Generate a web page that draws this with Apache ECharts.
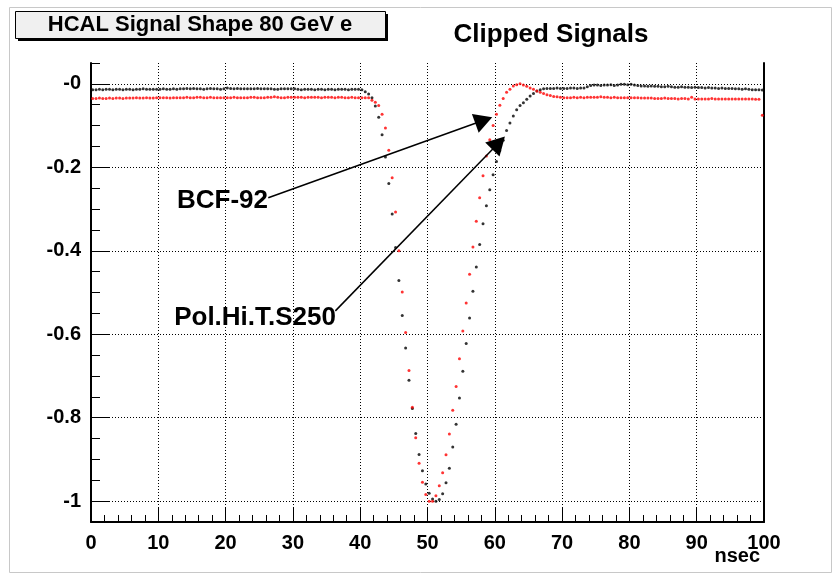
<!DOCTYPE html>
<html>
<head>
<meta charset="utf-8">
<script src="https://cdn.jsdelivr.net/npm/echarts@6/dist/echarts.min.js"></script>
<style>
  html, body { margin: 0; padding: 0; background: #ffffff; }
  #chart { width: 835px; height: 577px; }
</style>
</head>
<body>
<div id="chart"></div>
<script>
// Histogram binning of the time axis (ns): 200 bins of 0.5 ns from 0 to 100
const BIN_START = 0;
const BIN_WIDTH = 0.5;

// Normalised clipped signal, Pol.Hi.T.S250 scintillator (black)
const polHiTS250 = [
  -0.014,-0.014,-0.013,-0.014,-0.013,-0.013,-0.014,-0.013,-0.013,-0.014,
  -0.013,-0.013,-0.014,-0.013,-0.013,-0.012,-0.013,-0.013,-0.013,-0.013,
  -0.013,-0.012,-0.013,-0.013,-0.012,-0.013,-0.012,-0.012,-0.011,-0.012,
  -0.011,-0.012,-0.012,-0.013,-0.012,-0.011,-0.012,-0.012,-0.013,-0.012,
  -0.010,-0.011,-0.012,-0.011,-0.012,-0.012,-0.012,-0.012,-0.012,-0.011,
  -0.012,-0.012,-0.012,-0.012,-0.013,-0.013,-0.012,-0.012,-0.012,-0.012,
  -0.012,-0.013,-0.014,-0.013,-0.013,-0.013,-0.014,-0.013,-0.013,-0.014,
  -0.013,-0.013,-0.014,-0.013,-0.013,-0.013,-0.014,-0.013,-0.013,-0.013,
  -0.014,-0.019,-0.024,-0.033,-0.053,-0.080,-0.122,-0.175,-0.239,-0.312,
  -0.392,-0.471,-0.555,-0.633,-0.710,-0.778,-0.838,-0.888,-0.927,-0.959,
  -0.981,-0.995,-1.000,-0.996,-0.982,-0.956,-0.921,-0.870,-0.816,-0.753,
  -0.689,-0.622,-0.561,-0.497,-0.439,-0.385,-0.335,-0.292,-0.254,-0.218,
  -0.186,-0.160,-0.135,-0.112,-0.094,-0.077,-0.062,-0.052,-0.045,-0.037,
  -0.029,-0.023,-0.017,-0.014,-0.012,-0.011,-0.011,-0.011,-0.010,-0.011,
  -0.011,-0.011,-0.010,-0.010,-0.011,-0.010,-0.010,-0.007,-0.004,-0.003,
  -0.003,-0.004,-0.003,-0.003,-0.002,-0.004,-0.003,-0.001,-0.001,-0.002,
  -0.001,-0.003,-0.004,-0.005,-0.005,-0.006,-0.005,-0.006,-0.006,-0.007,
  -0.007,-0.006,-0.007,-0.008,-0.008,-0.007,-0.008,-0.008,-0.009,-0.008,
  -0.009,-0.009,-0.010,-0.009,-0.010,-0.010,-0.011,-0.010,-0.011,-0.011,
  -0.011,-0.012,-0.012,-0.013,-0.012,-0.013,-0.014,-0.014,-0.014,-0.015
];

// Normalised clipped signal, BCF-92 fibre (red)
const bcf92 = [
  -0.035,-0.035,-0.034,-0.035,-0.035,-0.034,-0.035,-0.034,-0.034,-0.035,
  -0.034,-0.034,-0.034,-0.033,-0.034,-0.034,-0.033,-0.034,-0.034,-0.033,
  -0.033,-0.033,-0.033,-0.034,-0.033,-0.033,-0.033,-0.033,-0.032,-0.033,
  -0.033,-0.032,-0.032,-0.033,-0.033,-0.032,-0.033,-0.033,-0.033,-0.033,
  -0.033,-0.033,-0.032,-0.033,-0.033,-0.033,-0.033,-0.032,-0.032,-0.033,
  -0.033,-0.033,-0.032,-0.032,-0.031,-0.032,-0.033,-0.033,-0.032,-0.032,
  -0.032,-0.032,-0.032,-0.033,-0.032,-0.032,-0.032,-0.032,-0.033,-0.032,
  -0.032,-0.032,-0.033,-0.032,-0.032,-0.033,-0.033,-0.032,-0.033,-0.033,
  -0.033,-0.033,-0.033,-0.039,-0.044,-0.052,-0.073,-0.106,-0.159,-0.225,
  -0.307,-0.400,-0.499,-0.596,-0.687,-0.775,-0.848,-0.909,-0.955,-0.984,
  -1.000,-1.000,-0.987,-0.963,-0.932,-0.889,-0.839,-0.782,-0.725,-0.659,
  -0.592,-0.525,-0.456,-0.391,-0.329,-0.273,-0.220,-0.173,-0.134,-0.100,
  -0.073,-0.051,-0.035,-0.020,-0.013,-0.005,-0.002,0.000,-0.003,-0.006,
  -0.010,-0.013,-0.017,-0.020,-0.023,-0.026,-0.028,-0.030,-0.031,-0.032,
  -0.033,-0.033,-0.033,-0.032,-0.033,-0.032,-0.033,-0.032,-0.032,-0.032,
  -0.032,-0.031,-0.032,-0.032,-0.033,-0.032,-0.033,-0.033,-0.033,-0.033,
  -0.033,-0.033,-0.033,-0.034,-0.034,-0.034,-0.034,-0.035,-0.035,-0.035,
  -0.034,-0.035,-0.035,-0.035,-0.036,-0.035,-0.035,-0.036,-0.032,-0.036,
  -0.036,-0.036,-0.036,-0.036,-0.035,-0.036,-0.036,-0.036,-0.036,-0.036,
  -0.036,-0.036,-0.036,-0.036,-0.036,-0.036,-0.036,-0.037,-0.037,-0.075
];

// Axis ticks and labels
const yMajorTicks = [0, -0.2, -0.4, -0.6, -0.8, -1];
const yMajorLabels = ['-0', '-0.2', '-0.4', '-0.6', '-0.8', '-1'];
const xAxisTitle = 'nsec';

// Annotation arrows: label, start (ns, value), head end (ns, value)
const arrowLabels = ['BCF-92', 'Pol.Hi.T.S250'];
const arrowStarts = [[26.34, -0.273], [36.31, -0.544]];
const arrowEnds = [[58.36, -0.0873], [60.57, -0.1418]];

const FONT = '"Liberation Sans", Arial, Helvetica, sans-serif';

function binCenters(n) {
  const out = [];
  for (let i = 0; i < n; i++) out.push(BIN_START + BIN_WIDTH * (i + 0.5));
  return out;
}
function toPoints(values) {
  const t = binCenters(values.length);
  return values.map((v, i) => [t[i], v]);
}
function yLabel(v) {
  for (let i = 0; i < yMajorTicks.length; i++) {
    if (Math.abs(v - yMajorTicks[i]) < 1e-9) return yMajorLabels[i];
  }
  return '';
}

const chart = echarts.init(document.getElementById('chart'), null, { renderer: 'canvas' });

const axisLabelStyle = { color: '#000', fontFamily: FONT, fontWeight: 'bold', fontSize: 20 };
const dotted = { color: '#000', width: 1, type: [1, 2] };

chart.setOption({
  animation: false,
  backgroundColor: '#ffffff',
  grid: { left: 91, right: 71, top: 63, bottom: 55 },
  xAxis: [
    {
      type: 'value', min: 0, max: 100, interval: 2, position: 'bottom',
      axisLine: { show: true, onZero: false, lineStyle: { color: '#000', width: 2 } },
      axisTick: { show: true, inside: true, length: 7, lineStyle: { color: '#000', width: 1 } },
      axisLabel: { show: false },
      splitLine: { show: false }
    },
    {
      type: 'value', min: 0, max: 100, interval: 10, position: 'bottom',
      axisLine: { show: false, onZero: false },
      axisTick: { show: true, inside: true, length: 14, lineStyle: { color: '#000', width: 1 } },
      axisLabel: Object.assign({ show: true, margin: 11, formatter: v => String(v) }, axisLabelStyle),
      splitLine: { show: true, lineStyle: dotted }
    }
  ],
  yAxis: [
    {
      type: 'value', min: -1.05, max: 0.05, interval: 0.05, position: 'left',
      axisLine: { show: true, onZero: false, lineStyle: { color: '#000', width: 2 } },
      axisTick: { show: true, inside: true, length: 9, lineStyle: { color: '#000', width: 1 } },
      axisLabel: { show: false },
      splitLine: { show: false }
    },
    {
      type: 'value', min: -1.05, max: 0.05, interval: 0.05, position: 'left',
      axisLine: { show: false, onZero: false },
      axisTick: { show: true, inside: true, length: 19, customValues: yMajorTicks, lineStyle: { color: '#000', width: 1 } },
      axisLabel: Object.assign({ show: true, margin: 10, customValues: yMajorTicks, formatter: yLabel }, axisLabelStyle),
      splitLine: { show: true, lineStyle: dotted }
    },
    {
      // right-hand frame edge
      type: 'value', min: -1.05, max: 0.05, interval: 0.05, position: 'right',
      axisLine: { show: true, onZero: false, lineStyle: { color: '#000', width: 2 } },
      axisTick: { show: false },
      axisLabel: { show: false },
      splitLine: { show: false }
    }
  ],
  series: [
    {
      name: 'Pol.Hi.T.S250', type: 'scatter', xAxisIndex: 0, yAxisIndex: 0,
      symbol: 'circle', symbolSize: 3,
      itemStyle: { color: '#000000' },
      data: toPoints(polHiTS250),
      silent: true
    },
    {
      name: 'BCF-92', type: 'scatter', xAxisIndex: 0, yAxisIndex: 0,
      symbol: 'circle', symbolSize: 3,
      itemStyle: { color: '#ff0000' },
      data: toPoints(bcf92),
      silent: true,
      markLine: {
        silent: true,
        symbol: ['none', 'triangle'],
        symbolSize: [20, 18],
        label: { show: false },
        lineStyle: { color: '#000', width: 1.5, type: 'solid' },
        emphasis: { disabled: true },
        data: arrowStarts.map((s, i) => [
          { coord: s, symbol: 'none' },
          { coord: arrowEnds[i], symbol: 'triangle' }
        ])
      }
    }
  ],
  graphic: [
    // canvas frame
    { type: 'rect', left: 7, top: 5, shape: { width: 822, height: 565 }, style: { fill: 'none', stroke: '#c8c8c8', lineWidth: 1 }, silent: true, z: -10 },
    // title box with shadow
    { type: 'rect', left: 18, top: 14, shape: { width: 370, height: 27 }, style: { fill: '#000' }, silent: true, z: 10 },
    { type: 'rect', left: 15, top: 11, shape: { width: 370, height: 27 }, style: { fill: '#f0f0f0', stroke: '#000', lineWidth: 1 }, silent: true, z: 11 },
    { type: 'text', x: 200, y: 25, style: { text: 'HCAL Signal Shape 80 GeV e', fill: '#000', font: 'bold 22px ' + FONT, align: 'center', verticalAlign: 'middle' }, silent: true, z: 12 },
    // main title
    { type: 'text', x: 551, y: 35, style: { text: 'Clipped Signals', fill: '#000', font: 'bold 26px ' + FONT, align: 'center', verticalAlign: 'middle' }, silent: true, z: 12 },
    // arrow labels
    { type: 'text', x: 268, y: 201, style: { text: arrowLabels[0], fill: '#000', font: 'bold 26px ' + FONT, align: 'right', verticalAlign: 'middle' }, silent: true, z: 12 },
    { type: 'text', x: 336, y: 318, style: { text: arrowLabels[1], fill: '#000', font: 'bold 26px ' + FONT, align: 'right', verticalAlign: 'middle' }, silent: true, z: 12 },
    // x axis title
    { type: 'text', x: 760, y: 556, style: { text: xAxisTitle, fill: '#000', font: 'bold 20px ' + FONT, align: 'right', verticalAlign: 'middle' }, silent: true, z: 12 }
  ]
});
</script>
</body>
</html>
